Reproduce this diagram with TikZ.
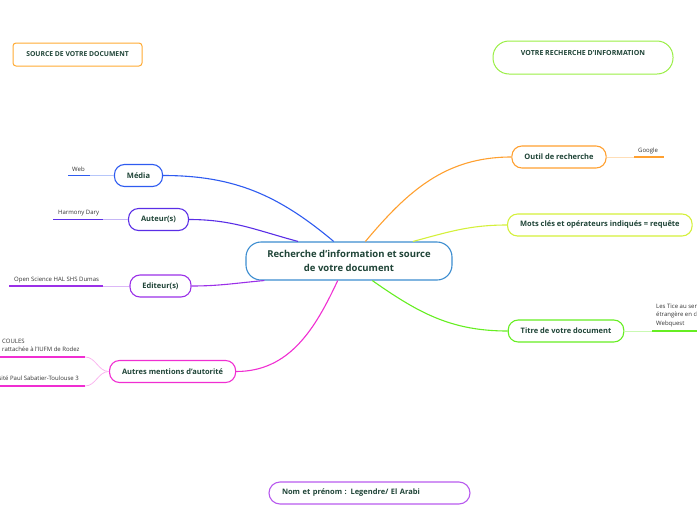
\documentclass[tikz,border=0pt]{standalone}
\usepackage{fontspec}
\setmainfont{Open Sans}
\definecolor{txt}{HTML}{1F4437}
\definecolor{leaftxt}{HTML}{333333}
\definecolor{docblue}{HTML}{3C8DD0}
\definecolor{mediac}{HTML}{2E5BF0}
\definecolor{auteurc}{HTML}{5A2EE6}
\definecolor{editeurc}{HTML}{9B30E8}
\definecolor{autresc}{HTML}{F02ED2}
\definecolor{outilc}{HTML}{FFA030}
\definecolor{motsc}{HTML}{D4F03A}
\definecolor{titrec}{HTML}{66EE22}
\definecolor{nomc}{HTML}{B85AEE}
\definecolor{headgreen}{HTML}{99EE44}
\definecolor{headorange}{HTML}{FFAA33}
\begin{document}
\begin{tikzpicture}[x=1pt, y=1pt,
    branch/.style={draw, line width=1.1pt, rounded corners=10pt, fill=white, text=txt,
        font=\bfseries\fontsize{7.5}{9}\selectfont, minimum height=22pt, inner xsep=12.5pt},
    header/.style={line width=1pt, text=txt, font=\bfseries\fontsize{7}{10}\selectfont},
    leaf/.style={text=leaftxt, font=\fontsize{6}{8.5}\selectfont, inner sep=1pt},
    link/.style={line width=1.1pt},
    twig/.style={line width=0.8pt},
    bar/.style={line width=1.6pt}]
    \useasboundingbox (0,0) rectangle (697,-520);
    \clip (0,0) rectangle (697,-520);

    % headers
    \node[header, draw=headorange, rounded corners=3pt, font=\bfseries\fontsize{6.8}{8}\selectfont,
        minimum width=129pt, minimum height=23pt] (src) at (77.5,-54.5) {SOURCE DE VOTRE DOCUMENT};
    \node[header, draw=headgreen, rounded corners=16pt, align=center,
        minimum width=180pt, minimum height=33pt] (rech) at (583,-57.5) {VOTRE RECHERCHE D'INFORMATION\\\mbox{}};

    % central topic
    \node[branch, draw=docblue, rounded corners=15pt, align=center, minimum width=206pt, minimum height=38pt,
        font=\bfseries\fontsize{9.5}{14}\selectfont] (doc) at (349,-261)
        {Recherche d'information et source\\de votre document};

    % branches
    \node[branch, draw=mediac] (media) at (138.5,-175.5) {Média};
    \node[branch, draw=auteurc] (auteur) at (158.5,-219.5) {Auteur(s)};
    \node[branch, draw=editeurc] (editeur) at (160.5,-286) {Editeur(s)};
    \node[branch, draw=autresc, anchor=west] (autres) at (109,-371.5) {Autres mentions d'autorité};
    \node[branch, draw=outilc] (outil) at (559,-157) {Outil de recherche};
    \node[branch, draw=motsc, anchor=west] (mots) at (507,-225) {Mots clés et opérateurs indiqués = requête};
    \node[branch, draw=titrec] (titre) at (566,-331) {Titre de votre document};

    \draw[link, mediac] (doc.128) to[out=140, in=0] (media.east);
    \draw[link, auteurc] (doc.159) to[out=165, in=0] (auteur.east);
    \draw[link, editeurc] (doc.193) to[out=185, in=0] (editeur.east);
    \draw[link, autresc] (doc.240) to[out=245, in=0] (autres.east);
    \draw[link, outilc] (doc.50) to[out=50, in=180] (outil.west);
    \draw[link, motsc] (doc.17) to[out=15, in=180] (mots.west);
    \draw[link, titrec] (doc.320) to[out=-35, in=180] (titre.west);

    % leaves
    \coordinate (web1) at (68,-175.5);
    \coordinate (web2) at (90,-175.5);
    \draw[twig, mediac!35] (web2) -- (media.west);
    \draw[bar, mediac] (web1) -- (web2);
    \node[leaf, anchor=base west] (web) at (71,-171.5) {Web};

    \coordinate (aut1) at (53,-219.5);
    \coordinate (aut2) at (103,-219.5);
    \draw[twig, auteurc!35] (aut2) -- (auteur.west);
    \draw[bar, auteurc] (aut1) -- (aut2);
    \node[leaf, anchor=base west] (dary) at (57,-214.5) {Harmony Dary};

    \coordinate (edi1) at (9,-286);
    \coordinate (edi2) at (103,-286);
    \draw[twig, editeurc!35] (edi2) -- (editeur.west);
    \draw[bar, editeurc] (edi1) -- (edi2);
    \node[leaf, anchor=base west] (hal) at (13,-281) {Open Science HAL SHS Dumas};

    \coordinate (aut3) at (-5,-357);
    \coordinate (aut4) at (85,-357);
    \coordinate (aut5) at (-5,-386);
    \coordinate (aut6) at (85,-386);
    \draw[twig, autresc!35] (autres.west) to[out=180, in=0] (aut4);
    \draw[twig, autresc!35] (autres.west) to[out=180, in=0] (aut6);
    \draw[bar, autresc] (aut3) -- (aut4);
    \draw[bar, autresc] (aut5) -- (aut6);
    \node[leaf, anchor=south west, align=left] (coules) at (1,-353) {COULES\\rattachée à l'IUFM de Rodez};
    \node[leaf, anchor=base east] (ups) at (80,-380.5) {Université Paul Sabatier-Toulouse 3};

    \coordinate (out1) at (634,-157);
    \coordinate (out2) at (664,-157);
    \draw[twig, outilc!35] (outil.east) -- (out1);
    \draw[bar, outilc] (out1) -- (out2);
    \node[leaf, anchor=base west] (google) at (637,-152.5) {Google};

    \coordinate (tit1) at (652,-331);
    \coordinate (tit2) at (705,-331);
    \draw[twig, titrec!35] (titre.east) -- (tit1);
    \draw[bar, titrec] (tit1) -- (tit2);
    \node[leaf, anchor=south west, align=left] (tice) at (655,-328)
        {Les Tice au service de la langue\\étrangère en classe\\Webquest};

    % author
    \node[draw=nomc, line width=1.1pt, rounded corners=11pt, text=txt, font=\bfseries\fontsize{7.5}{9}\selectfont,
        minimum height=22pt, text width=175pt, inner xsep=13pt] (nom) at (369.5,-493)
        {Nom et prénom : Legendre/ El Arabi};
\end{tikzpicture}
\end{document}
